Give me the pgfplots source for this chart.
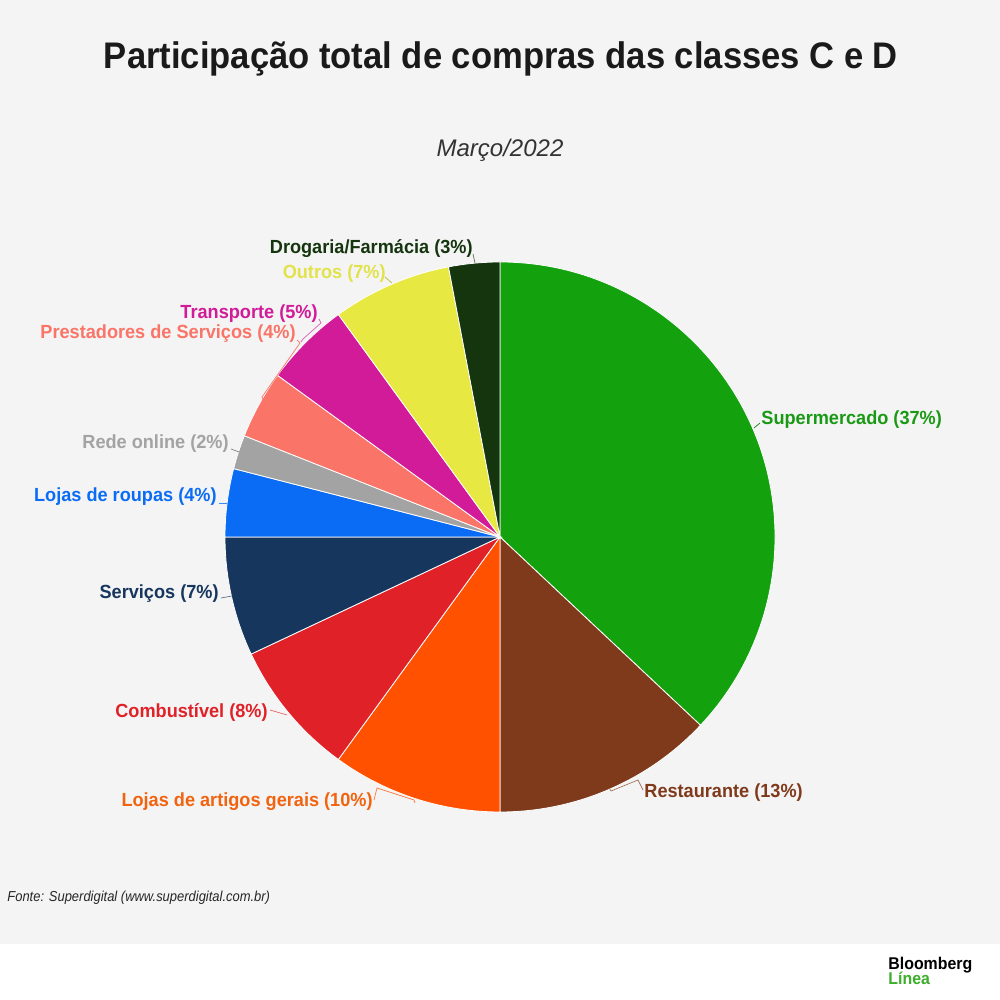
\documentclass[border=0pt]{standalone}
\usepackage{fontspec}
\setmainfont{Liberation Sans}
\newfontfamily\titlefont[FakeStretch=0.935]{Liberation Sans}
\newfontfamily\labfont[FakeStretch=0.955]{Liberation Sans}
\newfontfamily\condfont[FakeStretch=0.9]{Liberation Sans}
\usepackage{pgfplots}
\pgfplotsset{compat=1.18}
\definecolor{bggray}{HTML}{F4F4F4}
\definecolor{cSuper}{HTML}{13A10E}
\definecolor{tSuper}{HTML}{1A9A14}
\definecolor{cRest}{HTML}{7F391B}
\definecolor{cArt}{HTML}{FF5100}
\definecolor{tArt}{HTML}{F2630F}
\definecolor{cComb}{HTML}{E02128}
\definecolor{cServ}{HTML}{17365E}
\definecolor{cRoup}{HTML}{0A6CF5}
\definecolor{cRede}{HTML}{A3A3A3}
\definecolor{cPrest}{HTML}{FA7468}
\definecolor{cTrans}{HTML}{D11B98}
\definecolor{cOut}{HTML}{E8E842}
\definecolor{tOut}{HTML}{E2E24A}
\definecolor{cDrog}{HTML}{14350E}
\definecolor{titlec}{HTML}{1A1A1A}
\definecolor{bgreen}{HTML}{3DAE2B}
% start (cumulative %), share (%), colour
\newcommand{\slice}[3]{%
  \fill[#3, draw=white, line width=0.4pt] (axis cs:500,463) -- ++({90-3.6*(#1)}:137.5pt)
    arc[start angle={90-3.6*(#1)}, delta angle={-3.6*(#2)}, radius=137.5pt] -- cycle;}
\newcommand{\lab}{\labfont\fontsize{9.5}{11}\selectfont\bfseries}
\begin{document}
\begin{tikzpicture}
\begin{axis}[width=500pt,height=500pt,scale only axis,
  xmin=0,xmax=1000,ymin=0,ymax=1000,hide axis,clip=false]
\fill[white] (axis cs:0,0) rectangle (axis cs:1000,1000);
\fill[bggray] (axis cs:0,56) rectangle (axis cs:1000,1000);
% slices: Supermercado 37, Restaurante 13, Lojas de artigos gerais 10, Combustivel 8,
% Servicos 7, Lojas de roupas 4, Rede online 2, Prestadores 4, Transporte 5, Outros 7, Drogaria 3
\slice{0}{37}{cSuper}
\slice{37}{13}{cRest}
\slice{50}{10}{cArt}
\slice{60}{8}{cComb}
\slice{68}{7}{cServ}
\slice{75}{4}{cRoup}
\slice{79}{2}{cRede}
\slice{81}{4}{cPrest}
\slice{85}{5}{cTrans}
\slice{90}{7}{cOut}
\slice{97}{3}{cDrog}
% leaders
\begin{scope}[line width=0.35pt]
\draw[cDrog!70] (axis cs:473,746) -- (axis cs:475,737);
\draw[cOut!80!black] (axis cs:385,723) -- (axis cs:392,717);
\draw[cTrans!70] (axis cs:319,681) -- (axis cs:321,677) -- (axis cs:303,661) -- (axis cs:301,658);
\draw[cPrest] (axis cs:297,660) -- (axis cs:300,657) -- (axis cs:262,603) -- (axis cs:264,598);
\draw[cRede!80!black] (axis cs:231,551) -- (axis cs:239,548);
\draw[cRoup!80] (axis cs:219,497) -- (axis cs:227,497);
\draw[cServ!70] (axis cs:221,402) -- (axis cs:232,404);
\draw[cComb!70] (axis cs:270,290) -- (axis cs:287,285);
\draw[cArt!80] (axis cs:374,200) -- (axis cs:377,212) -- (axis cs:414,200) -- (axis cs:415,197);
\draw[cRest!70] (axis cs:643,210) -- (axis cs:638,220) -- (axis cs:611,209) -- (axis cs:609,212);
\draw[cSuper!80!black] (axis cs:760,577) -- (axis cs:754,572);
\end{scope}
% labels
\node[anchor=base east, inner sep=0pt, text=cDrog] at (axis cs:473,746) {\lab Drogaria/Farmácia (3\%)};
\node[anchor=base east, inner sep=0pt, text=tOut] at (axis cs:386,721) {\lab Outros (7\%)};
\node[anchor=base east, inner sep=0pt, text=cTrans] at (axis cs:318,681) {\lab Transporte (5\%)};
\node[anchor=base east, inner sep=0pt, text=cPrest] at (axis cs:296,661) {\lab Prestadores de Serviços (4\%)};
\node[anchor=base east, inner sep=0pt, text=cRede] at (axis cs:229,551) {\lab Rede online (2\%)};
\node[anchor=base east, inner sep=0pt, text=cRoup] at (axis cs:217,498) {\lab Lojas de roupas (4\%)};
\node[anchor=base east, inner sep=0pt, text=cServ] at (axis cs:219,401) {\lab Serviços (7\%)};
\node[anchor=base east, inner sep=0pt, text=cComb] at (axis cs:268,282) {\lab Combustível (8\%)};
\node[anchor=base east, inner sep=0pt, text=tArt] at (axis cs:373,193) {\lab Lojas de artigos gerais (10\%)};
\node[anchor=base west, inner sep=0pt, text=tSuper] at (axis cs:761,575) {\lab Supermercado (37\%)};
\node[anchor=base west, inner sep=0pt, text=cRest] at (axis cs:644,202) {\lab Restaurante (13\%)};
% titles
\node[anchor=base, inner sep=0pt, text=titlec] at (axis cs:501,931.5) {\titlefont\bfseries\fontsize{18.5}{22}\selectfont Participação total de compras das classes C e D};
\node[anchor=base, inner sep=0pt, text=black!80] at (axis cs:500,843) {\itshape\fontsize{12}{14}\selectfont Março/2022};
\node[anchor=base west, inner sep=0pt, text=black!85] at (axis cs:7,98) {\condfont\itshape\fontsize{7.2}{8}\selectfont Fonte: Superdigital (www.superdigital.com.br)};
\node[anchor=base west, inner sep=0pt, text=black, align=left] at (axis cs:888,30) {\titlefont\bfseries\fontsize{8.5}{8}\selectfont Bloomberg};
\node[anchor=base west, inner sep=0pt, text=bgreen, align=left] at (axis cs:888,16) {\titlefont\bfseries\fontsize{8.5}{8}\selectfont Línea};
\end{axis}
\end{tikzpicture}
\end{document}
